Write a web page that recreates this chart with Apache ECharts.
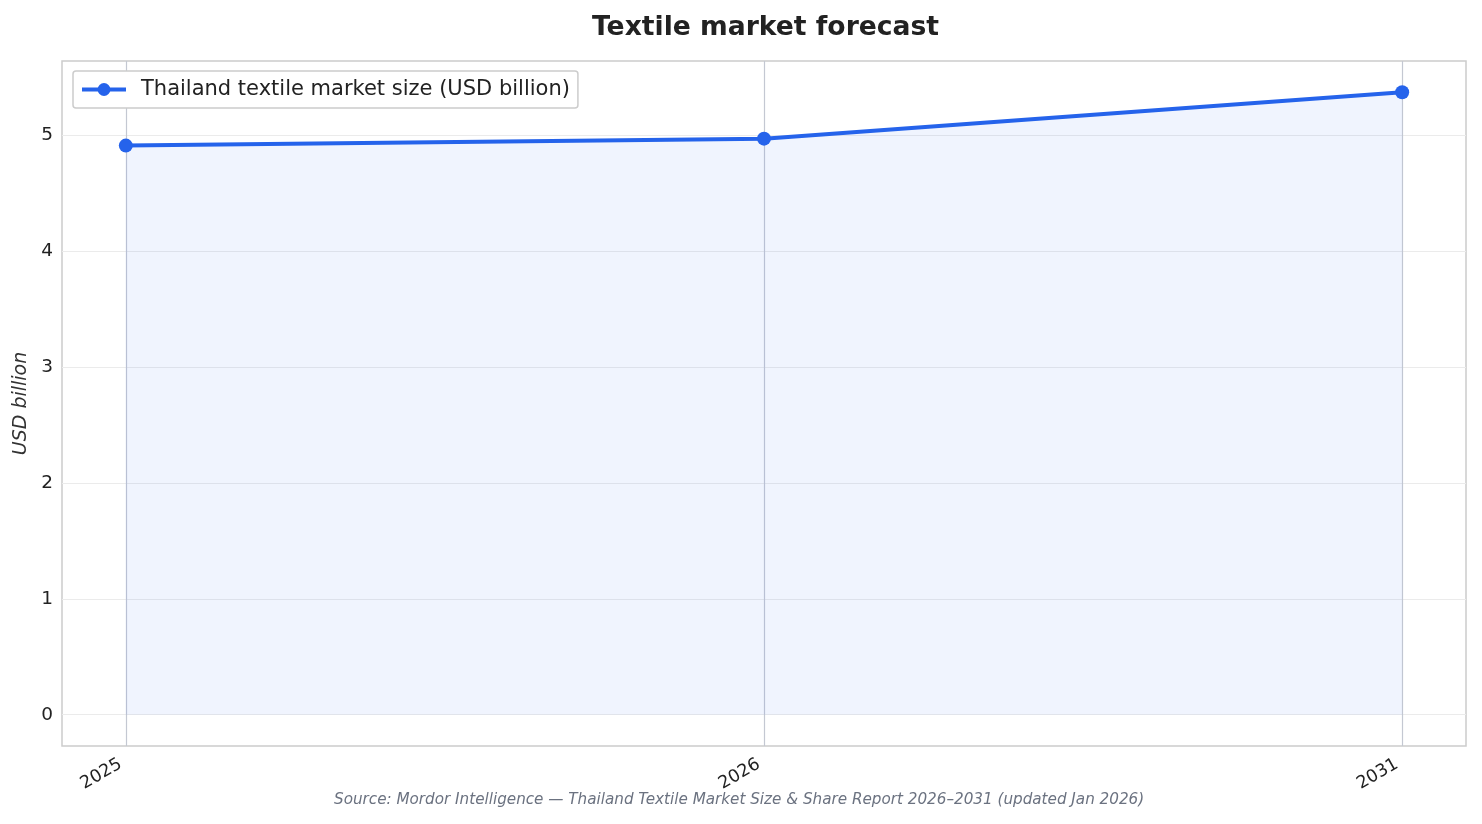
<!DOCTYPE html>
<html>
<head>
    <meta charset="utf-8">
    <title>Textile market forecast</title>
    <script src="https://cdn.jsdelivr.net/npm/echarts@6/dist/echarts.min.js"></script>
    <style>
        html, body { margin: 0; padding: 0; background: #fff; }
        #chart { width: 1482px; height: 824px; }
    </style>
</head>
<body>
<div id="chart"></div>
<script>
    // chart data
    const years = ['2025', '2026', '2031'];
    const marketSize = [4.91, 4.97, 5.37];
    const yTicks = [0, 1, 2, 3, 4, 5];

    const font = 'DejaVu Sans';
    const myChart = echarts.init(document.getElementById('chart'));

    const option = {
        animation: false,
        textStyle: { fontFamily: font },
        title: {
            text: 'Textile market forecast',
            left: 587,
            top: 10,
            textStyle: { fontFamily: font, fontSize: 26.6, fontWeight: 'bold', color: '#222' }
        },
        legend: {
            left: 73,
            top: 71,
            padding: [8, 8, 8, 7],
            borderColor: '#cccccc',
            borderWidth: 1.5,
            borderRadius: 3,
            backgroundColor: '#fff',
            itemWidth: 44,
            itemHeight: 16,
            lineStyle: { width: 4 },
            textStyle: { fontFamily: font, fontSize: 21, color: '#222', padding: [0, 0, 0, 10] },
            data: ['Thailand textile market size (USD billion)']
        },
        grid: {
            left: 62, right: 16, top: 61, bottom: 78,
            show: true,
            borderColor: '#cccccc',
            borderWidth: 1.5,
            outerBoundsMode: 'none',
            containLabel: false
        },
        xAxis: {
            type: 'value',
            min: -0.1,
            max: 2.1,
            axisLine: { show: false },
            axisTick: { show: false, customValues: [0, 1, 2] },
            splitLine: { show: true, lineStyle: { color: '#c4c8d2', width: 1.2 } },
            axisLabel: {
                customValues: [0, 1, 2],
                rotate: 30,
                margin: 14,
                padding: [0, 6, 0, 0],
                fontSize: 17.5,
                color: '#222',
                formatter: v => years[Math.round(v)]
            }
        },
        yAxis: {
            type: 'value',
            min: -0.27,
            max: 5.64,
            name: 'USD billion',
            nameLocation: 'middle',
            nameGap: 31,
            nameTextStyle: { fontFamily: font, fontSize: 19, fontStyle: 'italic', color: '#333' },
            axisLine: { show: false },
            axisTick: { show: false, customValues: yTicks },
            splitLine: { show: true, lineStyle: { color: '#ebebeb', width: 1.2 } },
            axisLabel: {
                customValues: yTicks,
                fontSize: 18.5,
                color: '#222',
                margin: 9
            }
        },
        series: [{
            name: 'Thailand textile market size (USD billion)',
            type: 'line',
            data: marketSize.map((v, i) => [i, v]),
            symbol: 'circle',
            symbolSize: 14,
            lineStyle: { color: '#2563eb', width: 4 },
            itemStyle: { color: '#2563eb' },
            areaStyle: { color: 'rgba(37,99,235,0.1)', origin: 0 },
            z: 3
        }],
        graphic: [{
            type: 'text',
            left: 334,
            top: 793,
            style: {
                text: 'Source: Mordor Intelligence \u2014 Thailand Textile Market Size & Share Report 2026\u20132031 (updated Jan 2026)',
                font: 'italic 15.2px "DejaVu Sans"',
                fill: '#6b7280'
            }
        }]
    };

    myChart.setOption(option);
</script>
</body>
</html>
